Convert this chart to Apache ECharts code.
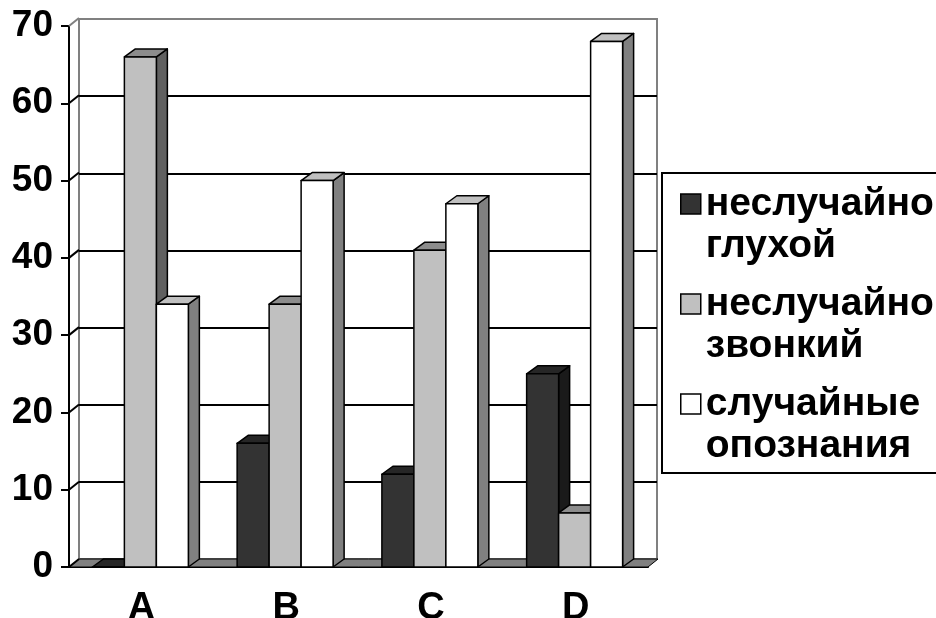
<!DOCTYPE html>
<html><head><meta charset="utf-8">
<script src="https://cdn.jsdelivr.net/npm/echarts@6/dist/echarts.min.js"></script>
<style>html,body{margin:0;padding:0;background:#fff}#c{width:936px;height:618px}</style>
</head><body><div id="c"></div>
<script>
const categories = ['A', 'B', 'C', 'D'];
const seriesNames = ['неслучайно\nглухой', 'неслучайно\nзвонкий', 'случайные\nопознания'];
const deafValues = [0, 16, 12, 25];
const voicedValues = [66, 34, 41, 7];
const randomValues = [34, 50, 47, 68];
const yTicks = [0, 10, 20, 30, 40, 50, 60, 70];
const yMin = 0, yMax = 70, yStep = 10;

const DX = 11, DY = -8;   // bar depth
const WDX = 10, WDY = -8; // wall depth
const palettes = [
  {front: '#333333', top: '#262626', side: '#1a1a1a'},
  {front: '#c0c0c0', top: '#8c8c8c', side: '#606060'},
  {front: '#ffffff', top: '#c0c0c0', side: '#808080'}
];
const FONT = '"Liberation Sans", Arial, sans-serif';

function barRenderer(si) {
  return function (params, api) {
    const ci = api.value(0), v = api.value(1);
    const base = api.coord([ci, 0]);
    const top = api.coord([ci, v]);
    const band = api.size([1, 0])[0];
    const bw = band * 0.221;
    const x = base[0] - 1.5 * bw - 1 + si * bw;
    const yb = base[1], yt = top[1];
    const p = palettes[si];
    const st = {stroke: '#000', lineWidth: 1.5, lineJoin: 'round'};
    return {type: 'group', children: [
      {type: 'polygon', shape: {points: [[x + bw, yt], [x + bw + DX, yt + DY], [x + bw + DX, yb + DY], [x + bw, yb]]}, style: Object.assign({fill: p.side}, st)},
      {type: 'polygon', shape: {points: [[x, yt], [x + bw, yt], [x + bw + DX, yt + DY], [x + DX, yt + DY]]}, style: Object.assign({fill: p.top}, st)},
      {type: 'rect', shape: {x: x, y: yt, width: bw, height: yb - yt}, style: Object.assign({fill: p.front}, st)}
    ]};
  };
}

function wallRenderer(params, api) {
  const v = api.value(1);
  const cs = params.coordSys;
  const y = api.coord([0, v])[1];
  const x0 = cs.x, x1 = cs.x + cs.width;
  const children = [];
  if (v === yMin) {
    children.push({type: 'polygon', shape: {points: [[x0, y], [x1, y], [x1 + WDX, y + WDY], [x0 + WDX, y + WDY]]},
      style: {fill: '#808080', stroke: '#000', lineWidth: 1}});
  }
  children.push({type: 'line', shape: {x1: x0, y1: y, x2: x0 + WDX, y2: y + WDY},
    style: {stroke: v === yMax ? '#808080' : '#000', lineWidth: 2}});
  return {type: 'group', children: children};
}

const valueSets = [deafValues, voicedValues, randomValues];
const FW = {fontFamily: FONT, fontWeight: 'bold', color: '#000'};

const chart = echarts.init(document.getElementById('c'), null, {renderer: 'canvas'});
chart.setOption({
  animation: false,
  backgroundColor: '#fff',
  grid: [
    {left: 69, top: 26, right: 288, bottom: 51, containLabel: false, outerBoundsMode: 'none'},
    {left: 79, top: 19, right: 279, bottom: 59, containLabel: false, outerBoundsMode: 'none',
      show: true, backgroundColor: '#fff', borderColor: '#808080', borderWidth: 2}
  ],
  xAxis: [
    {gridIndex: 0, type: 'category', data: categories,
      axisLine: {lineStyle: {color: '#000', width: 2}},
      axisTick: {length: 9, lineStyle: {color: '#000', width: 2}},
      axisLabel: Object.assign({margin: 23, fontSize: 38}, FW),
      splitLine: {show: false}},
    {gridIndex: 1, type: 'category', data: categories,
      axisLine: {show: false}, axisTick: {show: false}, axisLabel: {show: false}, splitLine: {show: false}}
  ],
  yAxis: [
    {gridIndex: 0, type: 'value', min: yMin, max: yMax, interval: yStep,
      axisLine: {show: true, lineStyle: {color: '#000', width: 2}},
      axisTick: {show: true, length: 8, lineStyle: {color: '#000', width: 2}},
      axisLabel: Object.assign({margin: 16, fontSize: 37}, FW),
      splitLine: {show: false}},
    {gridIndex: 1, type: 'value', min: yMin, max: yMax, interval: yStep,
      axisLine: {show: false}, axisTick: {show: false}, axisLabel: {show: false},
      splitLine: {show: true, showMinLine: false, showMaxLine: false, lineStyle: {color: '#000', width: 2}}}
  ],
  legend: {
    orient: 'vertical', left: 662, top: 173,
    padding: [10, 30, 6, 18],
    itemGap: 16, itemWidth: 20, itemHeight: 62,
    icon: 'path://M0,0L20,0L20,20L0,20ZM0,62',
    itemStyle: {borderColor: '#000', borderWidth: 1.5},
    borderColor: '#000', borderWidth: 2,
    textStyle: Object.assign({fontSize: 39, lineHeight: 42}, FW),
    data: seriesNames,
    selectedMode: false
  },
  series: [
    {type: 'custom', name: 'walls', xAxisIndex: 0, yAxisIndex: 0, z: 1, silent: true,
      encode: {x: 0, y: 1}, data: yTicks.map(v => [0, v]), renderItem: wallRenderer}
  ].concat(seriesNames.map((name, si) => ({
    type: 'custom', name: name, xAxisIndex: 0, yAxisIndex: 0, z: 3 + si,
    itemStyle: {color: palettes[si].front},
    encode: {x: 0, y: 1},
    data: categories.map((c, i) => [i, valueSets[si][i]]),
    renderItem: barRenderer(si)
  })))
});
</script></body></html>
